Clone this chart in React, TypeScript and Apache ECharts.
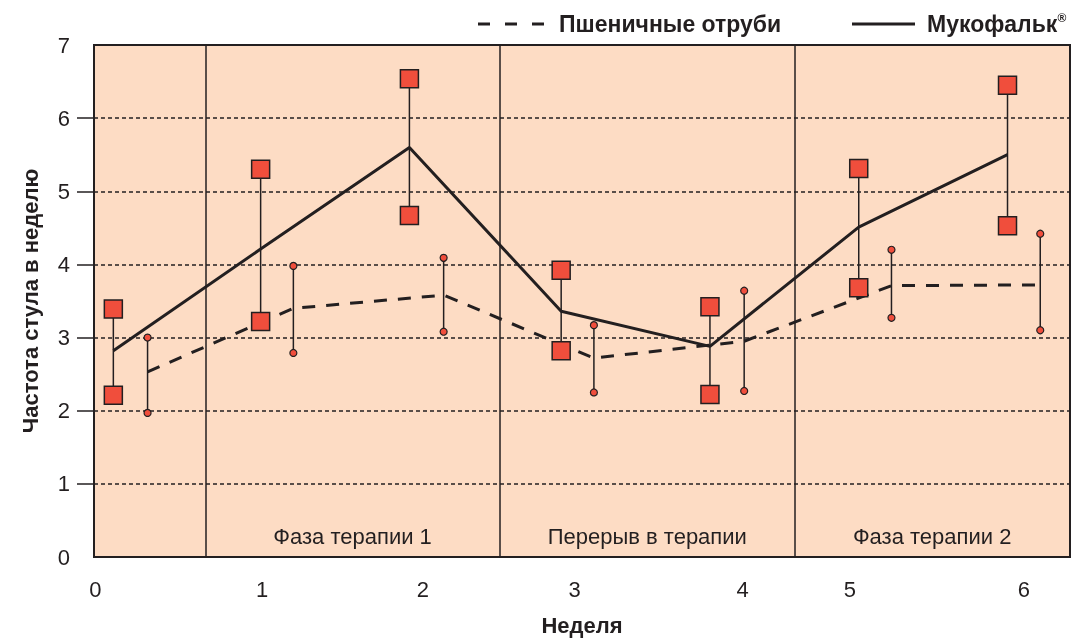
import React, { useEffect, useRef } from "react";
import * as echarts from "echarts";

// x positions in week units (axis drawn in same units)
const mukoX = [0.13, 1.12, 2.12, 3.14, 4.14, 5.14, 6.14];
const branX = [0.36, 1.34, 2.35, 3.36, 4.37, 5.36, 6.36];

const mukoMean = [2.82, 4.21, 5.6, 3.36, 2.88, 4.51, 5.5];
const mukoUpper = [3.39, 5.3, 6.54, 3.92, 3.42, 5.31, 6.45];
const mukoLower = [2.21, 3.22, 4.67, 2.82, 2.22, 3.68, 4.53];

const branMean = [2.53, 3.4, 3.58, 2.72, 2.95, 3.71, 3.72];
const branUpper = [3.0, 3.98, 4.09, 3.17, 3.64, 4.2, 4.42];
const branLower = [1.97, 2.79, 3.08, 2.25, 2.27, 3.27, 3.1];

const xTickPositions = [0.01, 1.13, 2.21, 3.23, 4.36, 5.08, 6.25];
const xTickLabels = ["0", "1", "2", "3", "4", "5", "6"];

const dividers = [0.746, 2.73, 4.707];
const xMax = 6.56;
const phases = [
  { from: 0.746, to: 2.73, name: "Фаза терапии 1" },
  { from: 2.73, to: 4.707, name: "Перерыв в терапии" },
  { from: 4.707, to: 6.56, name: "Фаза терапии 2" },
];

const DARK = "#231F20";
const RED = "#F04E3C";
const PEACH = "#FDDCC4";
const FONT = "Liberation Sans, Arial, sans-serif";

export default function App() {
  const ref = useRef<HTMLDivElement>(null);
  useEffect(() => {
    if (!ref.current) return;
    const chart = echarts.init(ref.current, undefined, { renderer: "svg" });

    const errRender = (params: any, api: any) => {
      const x = api.value(0);
      const p1 = api.coord([x, api.value(1)]);
      const p2 = api.coord([x, api.value(2)]);
      return {
        type: "line",
        shape: { x1: p1[0], y1: p1[1], x2: p2[0], y2: p2[1] },
        style: { stroke: DARK, lineWidth: 1.5 },
      };
    };

    const option: any = {
      animation: false,
      textStyle: { fontFamily: FONT },
      grid: {
        left: 94,
        right: 3,
        top: 45,
        bottom: 82,
        containLabel: false,
        outerBoundsMode: "none",
        show: true,
        backgroundColor: PEACH,
        borderColor: DARK,
        borderWidth: 2,
      },
      xAxis: {
        type: "value",
        min: 0,
        max: xMax,
        name: "Неделя",
        nameLocation: "middle",
        nameGap: 57,
        nameTextStyle: { fontSize: 22, fontWeight: "bold", color: DARK, fontFamily: FONT },
        axisLine: { show: true, lineStyle: { color: DARK, width: 2 } },
        axisTick: { show: false },
        splitLine: { show: false },
        axisLabel: {
          customValues: xTickPositions,
          margin: 21,
          fontSize: 22,
          color: DARK,
          fontFamily: FONT,
          formatter: (v: number) => {
            let best = 0;
            xTickPositions.forEach((p, i) => {
              if (Math.abs(p - v) < Math.abs(xTickPositions[best] - v)) best = i;
            });
            return xTickLabels[best];
          },
        },
      },
      yAxis: {
        type: "value",
        min: 0,
        max: 7,
        interval: 1,
        name: "Частота стула в неделю",
        nameLocation: "middle",
        nameRotate: 90,
        nameGap: 53,
        nameTextStyle: { fontSize: 22, fontWeight: "bold", color: DARK, fontFamily: FONT },
        axisLine: { show: true, lineStyle: { color: DARK, width: 2 } },
        axisTick: {
          show: true,
          customValues: [1, 2, 3, 4, 5, 6],
          length: 17,
          inside: false,
          lineStyle: { color: DARK, width: 1.5 },
        },
        axisLabel: { margin: 24, fontSize: 22, color: DARK, fontFamily: FONT },
        splitLine: {
          show: true,
          lineStyle: { color: DARK, width: 1.5, type: [4, 3] },
        },
      },
      series: [
        {
          type: "custom",
          name: "mukoErr",
          renderItem: errRender,
          data: mukoX.map((x, i) => [x, mukoLower[i], mukoUpper[i]]),
          z: 2,
          silent: true,
          markLine: {
            silent: true,
            symbol: "none",
            label: { show: false },
            lineStyle: { color: DARK, width: 1.5, type: "solid" },
            data: dividers.map((d) => ({ xAxis: d })),
          },
          markArea: {
            silent: true,
            itemStyle: { color: "rgba(0,0,0,0)" },
            label: {
              show: true,
              position: "insideBottom",
              distance: 10,
              fontSize: 22,
              color: DARK,
              fontFamily: FONT,
            },
            data: phases.map((p) => [{ xAxis: p.from, name: p.name }, { xAxis: p.to }]),
          },
        },
        {
          type: "custom",
          name: "branErr",
          renderItem: errRender,
          data: branX.map((x, i) => [x, branLower[i], branUpper[i]]),
          z: 2,
          silent: true,
        },
        {
          type: "line",
          name: "Мукофальк",
          data: mukoX.map((x, i) => [x, mukoMean[i]]),
          symbol: "none",
          lineStyle: { color: DARK, width: 3 },
          z: 3,
        },
        {
          type: "line",
          name: "Пшеничные отруби",
          data: branX.map((x, i) => [x, branMean[i]]),
          symbol: "none",
          lineStyle: { color: DARK, width: 3, type: [13, 11] },
          z: 3,
        },
        {
          type: "scatter",
          data: [
            ...mukoX.map((x, i) => [x, mukoUpper[i]]),
            ...mukoX.map((x, i) => [x, mukoLower[i]]),
          ],
          symbol: "rect",
          symbolSize: 18,
          itemStyle: { color: RED, borderColor: DARK, borderWidth: 1.5, opacity: 1 },
          z: 4,
        },
        {
          type: "scatter",
          data: [
            ...branX.map((x, i) => [x, branUpper[i]]),
            ...branX.map((x, i) => [x, branLower[i]]),
          ],
          symbol: "circle",
          symbolSize: 7,
          itemStyle: { color: RED, borderColor: DARK, borderWidth: 1.2, opacity: 1 },
          z: 4,
        },
      ],
      graphic: [
        {
          type: "line",
          shape: { x1: 478, y1: 24, x2: 544, y2: 24 },
          style: { stroke: DARK, lineWidth: 3, lineDash: [12, 15] },
        },
        {
          type: "text",
          left: 559,
          top: 12,
          style: {
            text: "Пшеничные отруби",
            font: `bold 23px ${FONT}`,
            fill: DARK,
          },
        },
        {
          type: "line",
          shape: { x1: 852, y1: 24, x2: 915, y2: 24 },
          style: { stroke: DARK, lineWidth: 3 },
        },
        {
          type: "text",
          left: 927,
          top: 12,
          style: {
            text: "{a|Мукофальк}{b|®}",
            fill: DARK,
            rich: {
              a: { font: `bold 23px ${FONT}`, fill: DARK, verticalAlign: "bottom" },
              b: { font: `bold 12px ${FONT}`, fill: DARK, verticalAlign: "top" },
            },
          },
        },
      ],
    };
    chart.setOption(option);
    return () => chart.dispose();
  }, []);
  return (
    <div
      ref={ref}
      style={{ position: "fixed", left: 0, top: 0, width: 1073, height: 639 }}
    />
  );
}
